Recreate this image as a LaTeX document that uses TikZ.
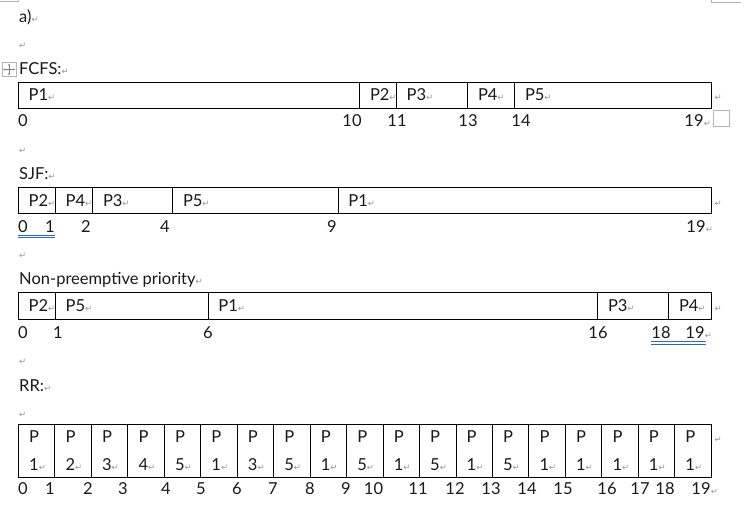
\documentclass[tikz,border=0pt]{standalone}
\usepackage{fontspec}
\setmainfont{Lato}
\newfontfamily\symf{DejaVu Sans}
\usetikzlibrary{arrows.meta}
\definecolor{pmgray}{RGB}{150,150,150}
\definecolor{ulblue}{RGB}{40,100,220}
\definecolor{txtc}{RGB}{25,25,25}
\definecolor{edgegray}{RGB}{180,180,180}
\newcommand\pmk{{\fontsize{8.5}{9}\selectfont\color{pmgray}\symf ↵}}
\tikzset{
  cell/.style={draw=black, line width=0.8pt, rectangle, inner sep=0pt, anchor=north west},
  txt/.style={inner sep=0pt, anchor=base west, font=\fontsize{16.5}{19}\selectfont, text=txtc},
  num/.style={inner sep=0pt, anchor=base, font=\fontsize{16.5}{19}\selectfont, text=txtc},
  pmnode/.style={inner sep=0pt, anchor=base west},
  ulbl/.style={draw=ulblue, line width=1pt},
  cornermark/.style={draw=edgegray, line width=0.8pt}
}
\newcommand\gcell[6]{%
  \node[cell, minimum width={(#3-#2)*1pt}, minimum height={#5*1pt}] (#1) at (#2,#4) {};
  \node[txt] (#1t) at ([xshift=10.5pt, yshift=-19pt]#1.north west) {#6\pmk};
}
\begin{document}
\begin{tikzpicture}[x=1pt,y=-1pt]
\useasboundingbox[fill=white] (0,0) rectangle (746,510);
% page corner marks
\draw[cornermark] (0,1.7) -- (18,1.7) -- (18,0);
\draw[cornermark] (711.7,0) -- (711.7,2.3) -- (741,2.3);

\node[txt] (ta) at (19,23) {a)\pmk};
\node[pmnode] (b1) at (19,49) {\pmk};

% table move handle
\node[draw=edgegray, fill=white, line width=0.6pt, minimum size=14pt, inner sep=0pt] (handle) at (9,69.5) {};
\draw[gray, line width=0.5pt, {Stealth[length=2pt,width=2pt]}-{Stealth[length=2pt,width=2pt]}] ([xshift=1.5pt]handle.west) -- ([xshift=-1.5pt]handle.east);
\draw[gray, line width=0.5pt, {Stealth[length=2pt,width=2pt]}-{Stealth[length=2pt,width=2pt]}] ([yshift=1.5pt]handle.south) -- ([yshift=-1.5pt]handle.north);

% ---------- FCFS ----------
\node[txt] (tfcfs) at (19,75) {FCFS:\pmk};
\gcell{f1}{18}{359.3}{82}{26.3}{P1}
\gcell{f2}{359.3}{396}{82}{26.3}{P2}
\gcell{f3}{396}{467.3}{82}{26.3}{P3}
\gcell{f4}{467.3}{514.3}{82}{26.3}{P4}
\gcell{f5}{514.3}{710.7}{82}{26.3}{P5}
\node[pmnode] (fpm) at ([xshift=3pt]f5t.base -| f5.east) {\pmk};
\node[num] (fn0) at (23,127) {0};
\node[num] (fn10) at (352,127) {10};
\node[num] (fn11) at (397,127) {11};
\node[num] (fn13) at (468,127) {13};
\node[num] (fn14) at (521,127) {14};
\node[num] (fn19) at (694,127) {19};
\node[pmnode] (fn19pm) at (fn19.base east) {\pmk};
\node[draw=edgegray, line width=0.7pt, minimum size=16.5pt, inner sep=0pt, anchor=north west] (fsq) at (712.5,110) {};

\node[pmnode] (b2) at (19,153.5) {\pmk};

% ---------- SJF ----------
\node[txt] (tsjf) at (19,180) {SJF:\pmk};
\gcell{s1}{18}{55}{187.3}{26}{P2}
\gcell{s2}{55}{92.3}{187.3}{26}{P4}
\gcell{s3}{92.3}{172.3}{187.3}{26}{P3}
\gcell{s4}{172.3}{337.7}{187.3}{26}{P5}
\gcell{s5}{337.7}{710.7}{187.3}{26}{P1}
\node[pmnode] (spm) at ([xshift=3pt]s5t.base -| s5.east) {\pmk};
\node[num] (sn0) at (23,232.5) {0};
\node[num] (sn1) at (50,232.5) {1};
\node[num] (sn2) at (86,232.5) {2};
\node[num] (sn4) at (165,232.5) {4};
\node[num] (sn9) at (332,232.5) {9};
\node[num] (sn19) at (696,232.5) {19};
\node[pmnode] (sn19pm) at (sn19.base east) {\pmk};
\draw[ulbl] (18.3,235.5) -- (55,235.5);
\draw[ulbl] (18.3,238) -- (55,238);

\node[pmnode] (b3) at (19,259) {\pmk};

% ---------- Non-preemptive priority ----------
\node[txt] (tpri) at (19,285) {Non-preemptive priority\pmk};
\gcell{p1}{18}{55}{292.3}{26.7}{P2}
\gcell{p2}{55}{207.7}{292.3}{26.7}{P5}
\gcell{p3}{207.7}{597.3}{292.3}{26.7}{P1}
\gcell{p4}{597.3}{668.3}{292.3}{26.7}{P3}
\gcell{p5}{668.3}{710.7}{292.3}{26.7}{P4}
\node[pmnode] (ppm) at ([xshift=3pt]p5t.base -| p5.east) {\pmk};
\node[num] (pn0) at (23,338) {0};
\node[num] (pn1) at (58,338) {1};
\node[num] (pn6) at (208,338) {6};
\node[num] (pn16) at (598,338) {16};
\node[num] (pn18) at (661,338) {18};
\node[num] (pn19) at (695,338) {19};
\node[pmnode] (pn19pm) at (pn19.base east) {\pmk};
\draw[ulbl] (651,341.5) -- (705.7,341.5);
\draw[ulbl] (651,344) -- (705.7,344);

\node[pmnode] (b4) at (19,364.5) {\pmk};

% ---------- RR ----------
\node[txt] (trr) at (19,391) {RR:\pmk};
\node[pmnode] (b5) at (19,417) {\pmk};
\foreach \p [count=\i from 0] in {1,2,3,4,5,1,3,5,1,5,1,5,1,5,1,1,1,1,1} {
  \pgfmathsetmacro\xa{18+\i*36.458}
  \node[cell, minimum width=36.458pt, minimum height=53pt] (rr\i) at (\xa,424) {};
  \node[txt] (rr\i p) at ([xshift=11pt, yshift=-18pt]rr\i.north west) {P};
  \node[txt] (rr\i n) at ([xshift=11pt, yshift=-46pt]rr\i.north west) {\p\pmk};
}
\node[pmnode] (rrpm) at ([xshift=3pt]rr18p.base -| rr18.east) {\pmk};
\foreach \v/\x in {0/23,1/50,2/88,3/123,4/166,5/201,6/237,7/273,8/310,9/346,10/373.5,11/418,12/455,13/491,14/527,15/563,16/607,17/640,18/665,19/701} {
  \node[num] (rn\v) at (\x,494) {\v};
}
\node[pmnode] (rn19pm) at (rn19.base east) {\pmk};
\end{tikzpicture}
\end{document}
